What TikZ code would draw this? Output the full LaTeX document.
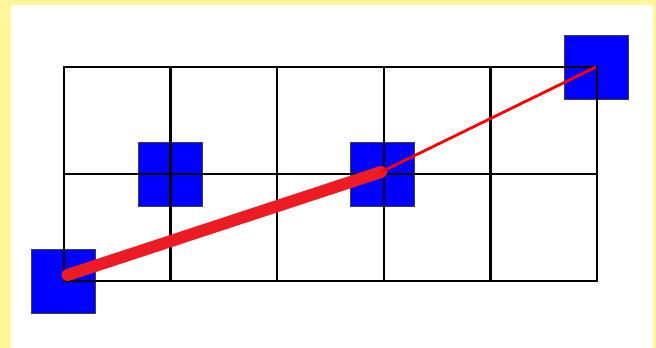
\documentclass[tikz,border=0pt]{standalone}
\definecolor{bgyellow}{RGB}{255,245,154}
\definecolor{thickred}{RGB}{237,28,36}
\begin{document}
\begin{tikzpicture}[x=1pt,y=-1pt,
  sq/.style={draw=black!75, line width=0.9pt, fill=blue, minimum size=64pt, inner sep=0pt, outer sep=0pt},
  gridline/.style={draw=black, line width=2.3pt}]
\useasboundingbox (0,0) rectangle (656,348);
\fill[bgyellow] (0,0) rectangle (656,348);
\fill[white] (11,5) rectangle (653,348);
% blue squares
\node[sq] (s1) at (63.5,281) {};
\node[sq] (s2) at (170,174) {};
\node[sq] (s3) at (382,174) {};
\node[sq] (s4) at (596,67) {};
% grid
\draw[gridline] (64,67) rectangle (597,281);
\draw[gridline] (64,174) -- (597,174);
\foreach \x in {170.6,277.2,383.8,490.4} {\draw[gridline] (\x,67) -- (\x,281);}
% red path
\coordinate (r0) at (67.5,275);
\coordinate (r1) at (381,172);
\coordinate (r2) at (596,67);
\draw[thickred, line width=12pt, line cap=round] (r0) -- (r1);
\draw[red, line width=2.8pt] (r1) -- (r2);
\end{tikzpicture}
\end{document}
